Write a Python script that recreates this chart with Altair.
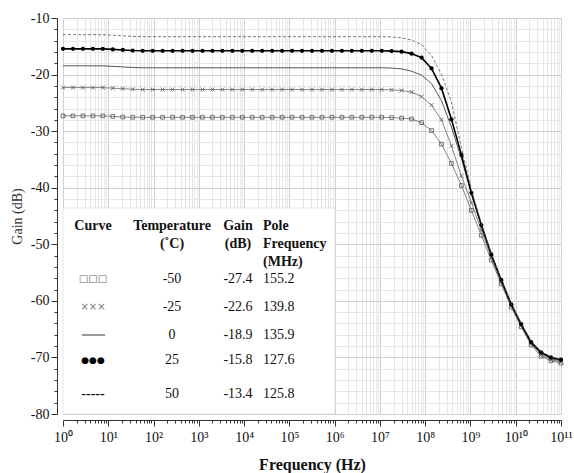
import altair as alt
import pandas as pd

# sample frequencies (log10 of Hz) where curve markers sit
log_f = [0.00, 0.22, 0.44, 0.66, 0.88, 1.10, 1.32, 1.54, 1.76, 1.98,
         2.20, 2.42, 2.64, 2.86, 3.08, 3.30, 3.52, 3.74, 3.96, 4.18,
         4.40, 4.62, 4.84, 5.06, 5.28, 5.50, 5.72, 5.94, 6.16, 6.38,
         6.60, 6.82, 7.04, 7.26, 7.48, 7.70, 7.92, 8.14, 8.36, 8.58,
         8.80, 9.02, 9.24, 9.46, 9.68, 9.90, 10.12, 10.34, 10.56, 10.78, 11.00]

gain_m50 = [-27.3, -27.3, -27.3, -27.3, -27.3, -27.4, -27.5, -27.55, -27.55, -27.55,
            -27.55, -27.55, -27.55, -27.55, -27.55, -27.55, -27.55, -27.55, -27.55, -27.55,
            -27.55, -27.55, -27.55, -27.55, -27.55, -27.55, -27.55, -27.55, -27.55, -27.55,
            -27.55, -27.55, -27.55, -27.6, -27.7, -27.85, -28.5, -29.9, -32.3, -35.7,
            -39.6, -44.0, -48.4, -52.8, -57.0, -61.1, -64.6, -67.8, -69.8, -70.6, -71.0]
gain_m25 = [-22.3, -22.3, -22.3, -22.3, -22.3, -22.4, -22.5, -22.6, -22.65, -22.65,
            -22.65, -22.65, -22.65, -22.65, -22.65, -22.65, -22.65, -22.65, -22.65, -22.65,
            -22.65, -22.65, -22.65, -22.65, -22.65, -22.65, -22.65, -22.65, -22.65, -22.65,
            -22.65, -22.65, -22.65, -22.7, -22.8, -23.1, -23.9, -25.4, -28.0, -32.6,
            -37.9, -42.6, -47.5, -52.3, -56.7, -60.9, -64.4, -67.6, -69.5, -70.4, -70.8]
gain_0 = [-18.45, -18.45, -18.45, -18.45, -18.45, -18.55, -18.65, -18.75, -18.8, -18.8,
          -18.8, -18.8, -18.8, -18.8, -18.8, -18.8, -18.8, -18.8, -18.8, -18.8,
          -18.8, -18.8, -18.8, -18.8, -18.8, -18.8, -18.8, -18.8, -18.8, -18.8,
          -18.8, -18.8, -18.8, -18.85, -19.0, -19.4, -20.1, -21.6, -24.6, -29.3,
          -34.8, -41.0, -46.7, -51.9, -56.4, -60.7, -64.2, -67.4, -69.3, -70.2, -70.6]
gain_25 = [-15.45, -15.45, -15.45, -15.45, -15.45, -15.55, -15.65, -15.75, -15.8, -15.8,
           -15.8, -15.8, -15.8, -15.8, -15.8, -15.8, -15.8, -15.8, -15.8, -15.8,
           -15.8, -15.8, -15.8, -15.8, -15.8, -15.8, -15.8, -15.8, -15.8, -15.8,
           -15.8, -15.8, -15.8, -15.85, -15.95, -16.3, -17.0, -18.9, -22.4, -27.9,
           -34.2, -40.9, -46.6, -51.8, -56.3, -60.6, -64.1, -67.3, -69.1, -70.0, -70.4]
gain_50 = [-12.95, -12.95, -12.95, -12.95, -12.95, -13.05, -13.15, -13.25, -13.3, -13.3,
           -13.3, -13.3, -13.3, -13.3, -13.3, -13.3, -13.3, -13.3, -13.3, -13.3,
           -13.3, -13.3, -13.3, -13.3, -13.3, -13.3, -13.3, -13.3, -13.3, -13.3,
           -13.3, -13.3, -13.3, -13.35, -13.5, -13.9, -14.7, -16.6, -20.0, -24.8,
           -32.9, -40.3, -46.3, -51.6, -56.2, -60.5, -64.0, -67.2, -69.0, -69.9, -70.3]

# table (legend) contents
table_symbols = ["\u25a1\u25a1\u25a1", "\u00d7\u00d7\u00d7", "line", "\u25cf\u25cf\u25cf", "-----"]
table_temps = ["-50", "-25", "0", "25", "50"]
table_gains = ["-27.4", "-22.6", "-18.9", "-15.8", "-13.4"]
table_poles = ["155.2", "139.8", "135.9", "127.6", "125.8"]

x_ticks = [m * 10 ** k for k in range(11) for m in range(1, 10)] + [10 ** 11]
y_ticks = list(range(-80, -9, 2))

SERIF = "Liberation Serif"


def frame(g):
    return pd.DataFrame({"freq": [10 ** v for v in log_f], "gain": g})


X_MAJOR_TEST = "abs(log(datum.value)/LN10 - round(log(datum.value)/LN10)) < 1e-6"
Y_MAJOR_TEST = "abs(datum.value / 10 - round(datum.value / 10)) < 1e-6"
sup = "['\u2070','\u00b9','\u00b2','\u00b3','\u2074','\u2075','\u2076','\u2077','\u2078','\u2079','\u00b9\u2070','\u00b9\u00b9']"

x_axis = alt.Axis(
    values=x_ticks,
    title="Frequency (Hz)",
    titleFont=SERIF, titleFontSize=16, titleFontWeight="bold", titleColor="#111",
    titlePadding=12,
    labelExpr=X_MAJOR_TEST + " ? '10' + " + sup + "[round(log(datum.value)/LN10)] : ''",
    labelFont=SERIF, labelFontSize=14, labelColor="#111", labelPadding=4,
    labelOverlap=False, labelBound=False, labelFlush=False,
    tickSize={"condition": {"test": X_MAJOR_TEST, "value": 6}, "value": 3},
    tickColor="#333",
    grid=True,
    gridColor={"condition": {"test": X_MAJOR_TEST, "value": "#cfcfcf"}, "value": "#e6e6e6"},
    gridWidth=1,
    domainColor="#333",
    offset=6,
)
y_axis = alt.Axis(
    values=y_ticks,
    title="Gain (dB)",
    titleFont=SERIF, titleFontSize=14, titleFontWeight="normal", titleColor="#333",
    titlePadding=6,
    labelExpr=Y_MAJOR_TEST + " ? '' + datum.value : ''",
    labelFont=SERIF, labelFontSize=14, labelColor="#111", labelPadding=2,
    labelOverlap=False, labelBound=False, labelFlush=False,
    tickSize={"condition": {"test": Y_MAJOR_TEST, "value": 6}, "value": 3},
    tickColor="#333",
    grid=True,
    gridColor={"condition": {"test": Y_MAJOR_TEST, "value": "#cfcfcf"}, "value": "#e6e6e6"},
    gridWidth=1,
    domainColor="#333",
    offset=6,
)
x_scale = alt.Scale(type="log", domain=[1, 1e11], nice=False)
y_scale = alt.Scale(domain=[-80, -10], nice=False, zero=False)


def enc(ch):
    return ch.encode(
        x=alt.X("freq:Q", scale=x_scale, axis=x_axis),
        y=alt.Y("gain:Q", scale=y_scale, axis=y_axis),
    )


layers = []
# -50 C: squares
d = frame(gain_m50)
layers.append(enc(alt.Chart(d).mark_line(color="#666", strokeWidth=0.8)))
layers.append(enc(alt.Chart(d).mark_point(shape="square", filled=False, size=14, color="#555",
                                          strokeWidth=0.8, opacity=1)))
# -25 C: crosses
d = frame(gain_m25)
layers.append(enc(alt.Chart(d).mark_line(color="#666", strokeWidth=0.8)))
layers.append(enc(alt.Chart(d).mark_point(shape="M-1,-1L1,1M-1,1L1,-1", filled=False, size=16,
                                          color="#555", strokeWidth=0.8, opacity=1)))
# 0 C: solid
d = frame(gain_0)
layers.append(enc(alt.Chart(d).mark_line(color="#444", strokeWidth=0.9)))
# 25 C: dots
d = frame(gain_25)
layers.append(enc(alt.Chart(d).mark_line(color="#000", strokeWidth=1.6)))
layers.append(enc(alt.Chart(d).mark_point(shape="circle", filled=True, size=18, color="#000", opacity=1)))
# 50 C: dashed
d = frame(gain_50)
layers.append(enc(alt.Chart(d).mark_line(color="#555", strokeWidth=0.8, strokeDash=[3, 2])))

# table box
layers.append(alt.Chart(pd.DataFrame({"a": [0]})).mark_rect(fill="white", stroke="#d8d8d8", strokeWidth=0.6).encode(
    x=alt.value(0), x2=alt.value(272), y=alt.value(190), y2=alt.value(396)))


def txt(s, x, y, size=14, weight="normal", align="center", color="#111", font=SERIF):
    return alt.Chart(pd.DataFrame({"t": [s]})).mark_text(
        font=font, fontSize=size, fontWeight=weight, align=align, baseline="middle", color=color
    ).encode(text="t:N", x=alt.value(x), y=alt.value(y))


head = [("Curve", 30, 208, "center"), ("Temperature", 109, 208, "center"), ("(\u02daC)", 109, 226, "center"),
        ("Gain", 175, 208, "center"), ("(dB)", 175, 226, "center"),
        ("Pole", 200, 208, "left"), ("Frequency", 200, 226, "left"), ("(MHz)", 200, 244, "left")]
for s, x, y, a in head:
    layers.append(txt(s, x, y, size=14, weight="bold", align=a))

row_y = [261, 289, 317, 342, 376]
for i, ry in enumerate(row_y):
    sym = table_symbols[i]
    if sym == "line":
        layers.append(alt.Chart(pd.DataFrame({"a": [0]})).mark_rule(color="#333", strokeWidth=1).encode(
            x=alt.value(19), x2=alt.value(42), y=alt.value(ry)))
    elif i == 0:
        layers.append(txt(sym, 30, ry, size=10, color="#666", font="DejaVu Sans"))
    elif i == 1:
        layers.append(txt(sym, 30, ry, size=10, color="#777", font="DejaVu Sans"))
    elif i == 3:
        layers.append(txt(sym, 30, ry, size=9, color="#000", font="DejaVu Sans"))
    else:
        layers.append(txt(sym, 30, ry, size=14, weight="bold", color="#111"))
    layers.append(txt(table_temps[i], 109, ry))
    layers.append(txt(table_gains[i], 175, ry))
    layers.append(txt(table_poles[i], 200, ry, align="left"))

chart = alt.layer(*layers).properties(
    width=498, height=396,
    autosize=alt.AutoSizeParams(type="none"),
    padding={"left": 63, "top": 18, "right": 13, "bottom": 59},
).configure_view(stroke="#cccccc", strokeWidth=1).configure(background="white")

chart.save("out.html", embed_options={"renderer": "svg", "actions": False})
